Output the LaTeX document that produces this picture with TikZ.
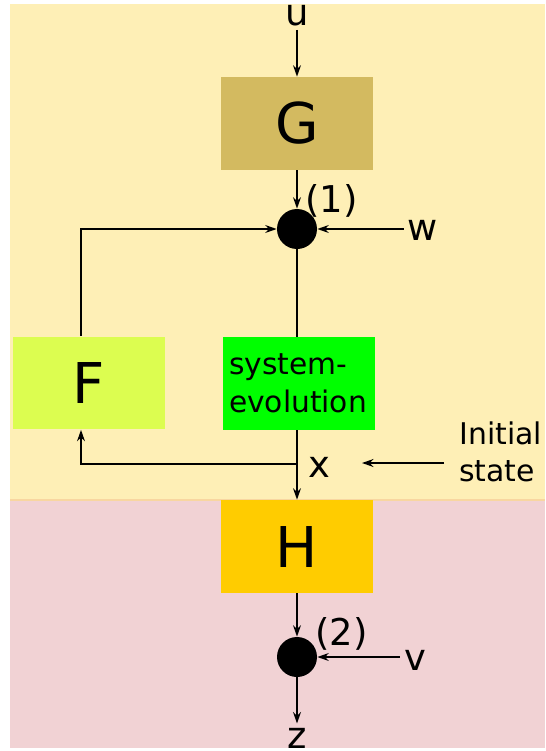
\documentclass[tikz,border=0pt]{standalone}
\usepackage{fontspec}
\setmainfont{DejaVu Sans}
\usepackage{xcolor}
\definecolor{stateyellow}{RGB}{254, 239, 182}
\definecolor{measpink}{RGB}{241, 210, 212}
\definecolor{edgeorange}{RGB}{248, 214, 160}
\definecolor{gbrown}{RGB}{211, 186, 96}
\definecolor{flime}{RGB}{220, 253, 80}
\definecolor{evogreen}{RGB}{0, 255, 0}
\definecolor{hgold}{RGB}{255, 204, 0}
\usepackage{tikz}
\usetikzlibrary{arrows.meta, positioning, calc}

\begin{document}
\begin{tikzpicture}[x=0.02cm, y=-0.02cm, >={Stealth[length=6.5pt, width=4.5pt]},
    block/.style={minimum width=3.04cm, minimum height=1.86cm, inner sep=0pt, font=\fontsize{32}{36}\selectfont},
    junction/.style={circle, fill=black, minimum size=0.8cm, inner sep=0pt},
    lbl/.style={inner sep=0.08cm, font=\fontsize{21}{25}\selectfont},
    flow/.style={->, line width=1pt}]
    \useasboundingbox (0,0) rectangle (545,751);
    \fill[stateyellow] (10,4) rectangle (545,500);
    \fill[measpink] (10,500) rectangle (545,748);
    \draw[edgeorange, line width=0.6pt] (10,500) -- (545,500);

    \node[lbl, anchor=base] (u) at (297,25) {u};
    \node[block, fill=gbrown] (G) at (297,123.5) {G};
    \node[junction] (j1) at (297,229) {};
    \node[lbl, anchor=base west, inner sep=0pt] (lab1) at (305,212) {(1)};
    \node[lbl, anchor=base] (w) at (423,240) {w};
    \node[block, fill=flime] (F) at (89,383) {F};
    \node[block, fill=evogreen, text width=2.8cm, inner xsep=0.12cm, align=left,
          font=\fontsize{16.9}{21.5}\selectfont] (evo) at (299,383.5) {system-\\evolution};
    \coordinate (xb) at (297,464);
    \node[lbl, anchor=base] (x) at (319,477) {x};
    \node[anchor=west, inner sep=0pt, align=left, font=\fontsize{17}{21}\selectfont] (init) at (459,452) {Initial\\state};
    \coordinate (initfrom) at (444,463);
    \coordinate (initto) at (362,463);
    \node[block, fill=hgold] (H) at (297,546.5) {H};
    \node[junction] (j2) at (297,657) {};
    \node[lbl, anchor=base west, inner sep=0pt] (lab2) at (315,645) {(2)};
    \node[lbl, anchor=base] (v) at (415,670) {v};
    \node[lbl, anchor=base] (z) at (297,748) {z};

    \draw[flow] (u) -- (G);
    \draw[flow] (G) -- (j1);
    \draw[flow] (w.west |- j1) -- (j1);
    \draw[flow] ([xshift=-0.16cm]F.north) |- (j1);
    \draw[line width=1pt] (j1) -- (j1 |- evo.north);
    \draw[flow] (j1 |- evo.south) -- (H);
    \draw[flow] (xb) -| ([xshift=-0.16cm]F.south);
    \draw[flow] (initfrom) -- (initto);
    \draw[flow] (H) -- (j2);
    \draw[flow] (v.west |- j2) -- (j2);
    \draw[flow] (j2) -- (z);
\end{tikzpicture}
\end{document}
